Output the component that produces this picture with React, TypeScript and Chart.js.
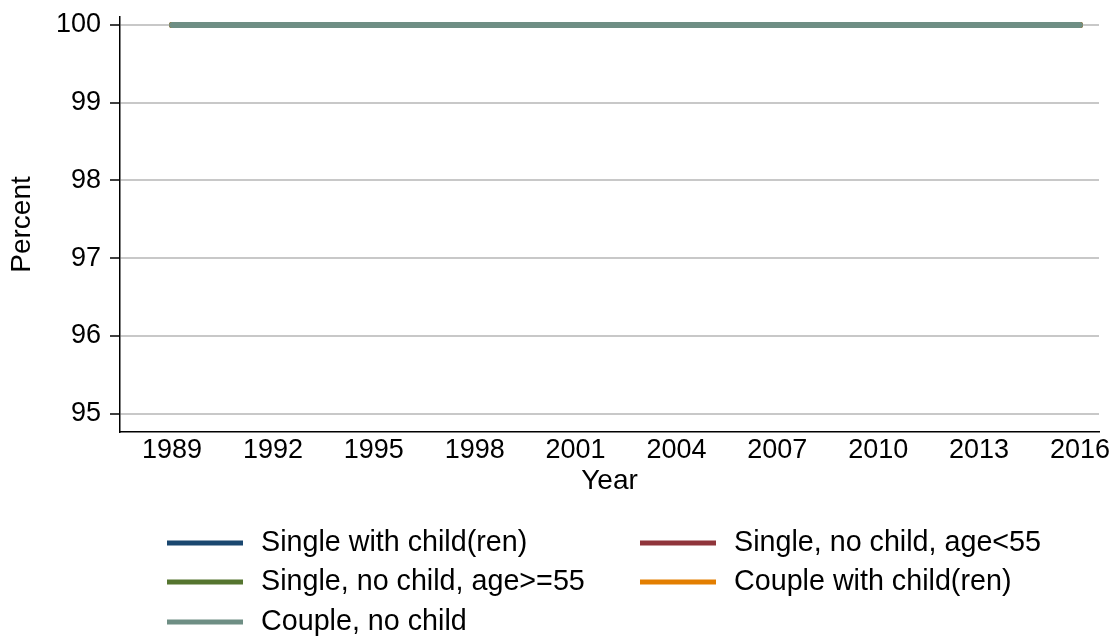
import React, { useEffect, useRef } from "react";
import { Chart, registerables } from "chart.js";

Chart.register(...registerables);

const years = [1989, 1992, 1995, 1998, 2001, 2004, 2007, 2010, 2013, 2016];
const yTicks = [95, 96, 97, 98, 99, 100];
const seriesLabels = [
  "Single with child(ren)",
  "Single, no child, age<55",
  "Single, no child, age>=55",
  "Couple with child(ren)",
  "Couple, no child",
];
const singleWithChild = [100, 100, 100, 100, 100, 100, 100, 100, 100, 100];
const singleNoChildYoung = [100, 100, 100, 100, 100, 100, 100, 100, 100, 100];
const singleNoChildOld = [100, 100, 100, 100, 100, 100, 100, 100, 100, 100];
const coupleWithChild = [100, 100, 100, 100, 100, 100, 100, 100, 100, 100];
const coupleNoChild = [100, 100, 100, 100, 100, 100, 100, 100, 100, 100];
const seriesColors = ["#1a476f", "#90353b", "#55752f", "#e37e00", "#6e8e84"];

const FONT = "'Liberation Sans', Arial, Helvetica, sans-serif";
const TICK_FS = 27;
const TITLE_FS = 28;
const LEGEND_FS = 28.7;

const legendPlugin = {
  id: "stataLegend",
  afterDraw(chart: any) {
    const ctx = chart.ctx;
    const rows = [543, 582, 622];
    const cols = [167, 640];
    ctx.save();
    ctx.font = `${LEGEND_FS}px ${FONT}`;
    ctx.textBaseline = "middle";
    ctx.textAlign = "left";
    chart.data.datasets.forEach((ds: any, i: number) => {
      const row = Math.floor(i / 2);
      const col = i % 2;
      const x = cols[col];
      const y = rows[row];
      ctx.fillStyle = ds.borderColor;
      ctx.fillRect(x, y - 2.5, 76, 5);
      ctx.fillStyle = "#000";
      ctx.fillText(ds.label, x + 94, y);
    });
    ctx.restore();
  },
};

export default function App() {
  const ref = useRef<HTMLCanvasElement>(null);
  useEffect(() => {
    if (!ref.current) return;
    const seriesValues = [singleWithChild, singleNoChildYoung, singleNoChildOld, coupleWithChild, coupleNoChild];
    const chart = new Chart(ref.current, {
      type: "line",
      data: {
        datasets: seriesValues.map((vals, i) => ({
          label: seriesLabels[i],
          data: years.map((yr, j) => ({ x: yr, y: vals[j] })),
          borderColor: seriesColors[i],
          backgroundColor: seriesColors[i],
          borderWidth: 6,
          pointRadius: 0,
          borderCapStyle: "round" as const,
          order: 5 - i,
          fill: false,
        })),
      },
      options: {
        animation: false,
        responsive: false,
        devicePixelRatio: 1,
        layout: { padding: { top: 17, right: 20, bottom: 143, left: 0 } },
        plugins: {
          legend: { display: false },
          tooltip: { enabled: false },
        },
        scales: {
          x: {
            type: "linear",
            min: 1987.452,
            max: 2016.566,
            afterBuildTicks: (scale: any) => {
              scale.ticks = years.map((v) => ({ value: v }));
            },
            afterFit: (scale: any) => {
              scale.height = 66;
              scale.paddingLeft = 0;
              scale.paddingRight = 0;
            },
            ticks: {
              font: { family: FONT, size: TICK_FS },
              color: "#000",
              padding: 2,
              maxRotation: 0,
              autoSkip: false,
              callback: (v: any) => String(v),
            },
            grid: { display: true, drawOnChartArea: false, drawTicks: false },
            border: { color: "#000", width: 1.5 },
            title: {
              display: true,
              text: "Year",
              font: { family: FONT, size: TITLE_FS },
              color: "#000",
              padding: { top: 0, bottom: 0 },
            },
          },
          y: {
            type: "linear",
            min: 94.763,
            max: 100.103,
            afterBuildTicks: (scale: any) => {
              scale.ticks = yTicks.map((v) => ({ value: v }));
            },
            afterFit: (scale: any) => {
              scale.width = 120;
              scale.paddingTop = 0;
              scale.paddingBottom = 0;
            },
            ticks: {
              font: { family: FONT, size: TICK_FS },
              color: "#000",
              padding: 9,
              callback: (v: any) => String(v),
            },
            grid: {
              color: "#c8c8c8",
              lineWidth: 2,
              drawTicks: true,
              tickLength: 10,
              tickColor: "#000",
              tickWidth: 1.5,
            },
            border: { color: "#000", width: 1.5 },
            title: {
              display: true,
              text: "Percent",
              font: { family: FONT, size: TITLE_FS },
              color: "#000",
              padding: { top: 5, bottom: 0 },
            },
          },
        },
      },
      plugins: [legendPlugin],
    });
    return () => chart.destroy();
  }, []);
  return (
    <div style={{ position: "absolute", left: 0, top: 0, width: 1119, height: 641, background: "#fff" }}>
      <canvas ref={ref} width={1119} height={641} style={{ display: "block" }} />
    </div>
  );
}
